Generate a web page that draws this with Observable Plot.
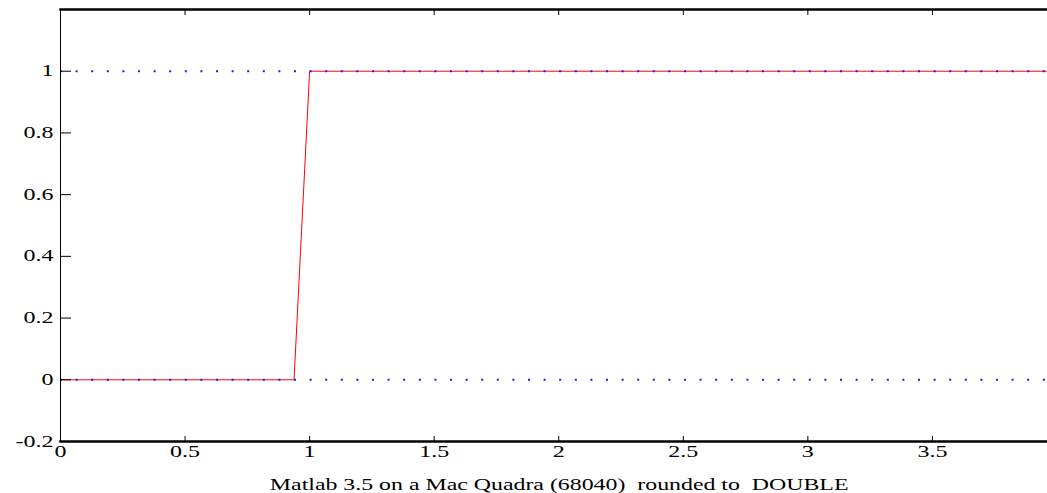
<!DOCTYPE html>
<html><head><meta charset="utf-8">
<script src="https://cdn.jsdelivr.net/npm/d3@7"></script>
<script src="https://cdn.jsdelivr.net/npm/@observablehq/plot@0.6"></script>
<style>
html,body{margin:0;padding:0;background:#fff;}
#wrap{position:relative;width:1047px;height:493px;overflow:hidden;}
#caption{position:absolute;left:0;top:476.6px;width:1118px;text-align:center;font-family:"Liberation Serif",serif;font-size:16px;line-height:16px;white-space:pre;color:#000;}
#caption span{display:inline-block;transform:scaleX(1.49);transform-origin:50% 50%;}
</style></head><body>
<div id="wrap"><div id="chart"></div><div id="caption"><span></span></div></div>
<script>
const xDomain = [0, 3.962];
const yDomain = [-0.2, 1.2];
const xTicks = [0, 0.5, 1, 1.5, 2, 2.5, 3, 3.5];
const yTicks = [-0.2, 0, 0.2, 0.4, 0.6, 0.8, 1];
const redX = [0, 0.9375, 1, 3.962];
const redY = [0, 0, 1, 1];
const blueLevels = [0, 1];
const captionText = "Matlab 3.5 on a Mac Quadra (68040)  rounded to  DOUBLE";

const redData = redX.map((x, i) => ({x, y: redY[i]}));
const fmt = d => String(d);

const plot = Plot.plot({
  width: 1047, height: 462,
  marginLeft: 60, marginRight: 0, marginTop: 9, marginBottom: 21,
  style: {fontFamily: '"Liberation Serif", serif', fontSize: "16px", color: "black", background: "white", overflow: "visible"},
  x: {domain: xDomain, label: null},
  y: {domain: yDomain, label: null},
  marks: [
    Plot.line(redData, {x: "x", y: "y", stroke: "red", strokeWidth: 1}),
    Plot.ruleY(blueLevels, {stroke: "#1a1aff", strokeWidth: 2, strokeDasharray: "2,13.6"}),
    // inward ticks (zero-length rules extended by negative insets)
    Plot.ruleX(xTicks, {x: d => d, y1: () => yDomain[0], y2: () => yDomain[0], insetTop: -5, stroke: "black", strokeWidth: 1}),
    Plot.ruleX(xTicks, {x: d => d, y1: () => yDomain[1], y2: () => yDomain[1], insetBottom: -6, stroke: "black", strokeWidth: 1}),
    Plot.ruleY(yTicks, {y: d => d, x1: () => xDomain[0], x2: () => xDomain[0], insetRight: -11, stroke: "black", strokeWidth: 1}),
    Plot.axisX(xTicks, {anchor: "bottom", tickSize: 0, tickPadding: 4, tickFormat: fmt, label: null}),
    Plot.axisY(yTicks, {anchor: "left", tickSize: 0, tickPadding: 7, tickFormat: fmt, label: null}),
    Plot.frame({anchor: "left", stroke: "black", strokeWidth: 1}),
    Plot.frame({anchor: "top", stroke: "black", strokeWidth: 2.5}),
    Plot.frame({anchor: "bottom", stroke: "black", strokeWidth: 2.5})
  ]
});

// horizontally stretched glyphs, as in the reference
plot.querySelectorAll('g[aria-label$="tick label"] text').forEach(t => {
  const tr = t.getAttribute("transform");
  if (tr) {
    t.setAttribute("transform", tr + " scale(1.5,1)");
  } else {
    const x = +(t.getAttribute("x") || 0), y = +(t.getAttribute("y") || 0);
    t.removeAttribute("x"); t.removeAttribute("y");
    t.setAttribute("transform", `translate(${x},${y}) scale(1.5,1)`);
  }
});

document.getElementById("chart").appendChild(plot);
document.querySelector("#caption span").textContent = captionText;
</script>
</body></html>
